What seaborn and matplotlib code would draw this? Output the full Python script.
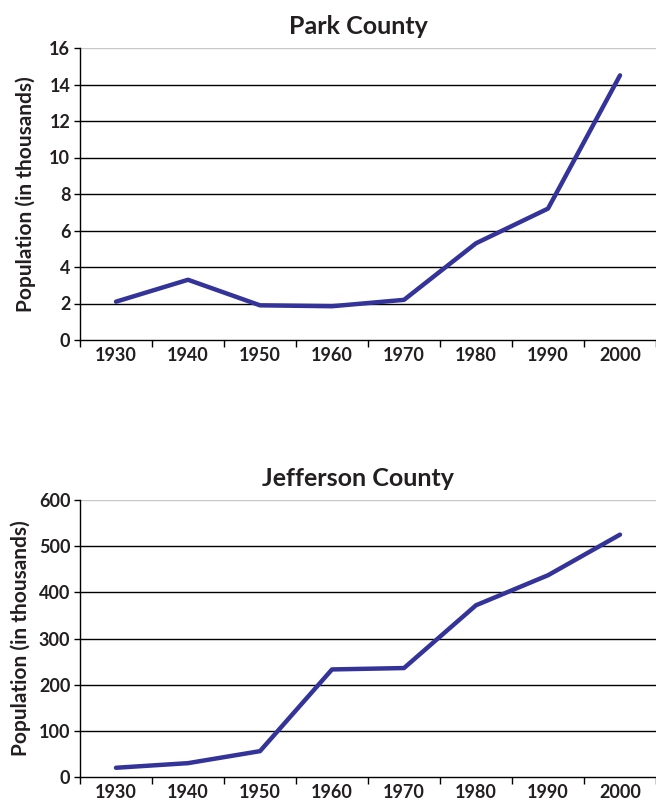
import matplotlib
matplotlib.use("Agg")
import matplotlib.pyplot as plt
import seaborn as sns
import pandas as pd
import numpy as np

years = ["1930", "1940", "1950", "1960", "1970", "1980", "1990", "2000"]
park = [2.1, 3.3, 1.9, 1.85, 2.2, 5.3, 7.2, 14.5]
jefferson = [20, 30, 56, 233, 236, 372, 437, 525]
park_yticks = [0, 2, 4, 6, 8, 10, 12, 14, 16]
jeff_yticks = [0, 100, 200, 300, 400, 500, 600]

sns.set_theme(style="white")
plt.rcParams['font.family'] = ['Lato', 'DejaVu Sans']
TXT = "#231f20"

fig = plt.figure(figsize=(6.56, 8.06), dpi=100)
ax1 = fig.add_axes([80/656, (806-340)/806, 1-80/656, (340-48)/806])
ax2 = fig.add_axes([80/656, (806-777)/806, 1-80/656, (777-500)/806])

def style(ax, df, col, yticks, title, label_right):
    top = yticks[-1]
    for t in yticks[1:]:
        ax.axhline(t, color="#c8c8c8" if t == top else "black", lw=1.0, zorder=1)
    sns.lineplot(data=df, x="year", y=col, ax=ax, color="#333399", lw=3.2,
                 sort=False, zorder=3)
    ax.set_xlim(-0.5, 7.5)
    ax.set_ylim(0, top)
    ax.set_yticks(yticks)
    ax.set_yticklabels([str(t) for t in yticks], fontweight="bold", fontsize=13, color=TXT)
    ax.set_xticks(range(len(years)))
    ax.set_xticklabels(years, fontweight="bold", fontsize=13, color=TXT)
    ax.set_xticks(np.arange(-0.5, 8, 1), minor=True)
    ax.tick_params(axis="x", which="major", length=0, pad=5)
    ax.tick_params(axis="x", which="minor", length=5, width=1, color="black", direction="out", bottom=True)
    ax.tick_params(axis="y", length=4, width=1, color="black", direction="out", left=True, pad=3)
    for s in ["top", "right"]:
        ax.spines[s].set_visible(False)
    for s in ["left", "bottom"]:
        ax.spines[s].set_color("black")
        ax.spines[s].set_linewidth(1.0)
    ax.set_xlabel("")
    ax.set_ylabel("Population (in thousands)", fontsize=15, fontweight="bold", color=TXT)
    ax.yaxis.set_label_coords(-(80-label_right)/576, 0.5)
    ax.set_title(title, fontsize=18, fontweight="bold", pad=10, x=(358-80)/576, color=TXT)

df = pd.DataFrame({"year": years, "park": park, "jefferson": jefferson})
style(ax1, df, "park", park_yticks, "Park County", 36)
style(ax2, df, "jefferson", jeff_yticks, "Jefferson County", 31)

fig.savefig("out.png", dpi=100)
